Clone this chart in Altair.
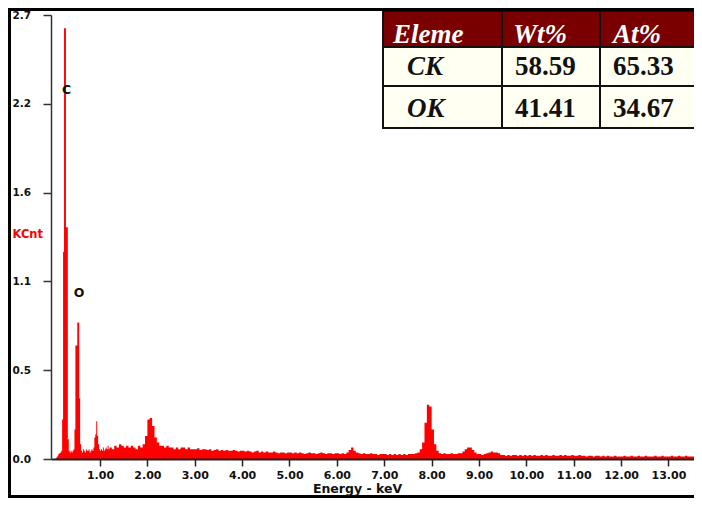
import altair as alt
import pandas as pd

# ---------------- spectrum data (KCnt) ----------------
LOW_START, LOW_STEP = 0.0, 0.02      # keV channels, 0.00 - 1.18
low_counts = [
    0.0, 0.0, 0.0, 0.005, 0.01, 0.02, 0.03, 0.035, 0.04, 0.05,
    0.24, 1.26, 2.62, 2.62, 1.41, 1.41, 0.12, 0.05, 0.04, 0.05,
    0.04, 0.05, 0.06, 0.18, 0.69, 0.69, 0.83, 0.83, 0.37, 0.09,
    0.05, 0.04, 0.06, 0.05, 0.04, 0.06, 0.05, 0.05, 0.06, 0.04,
    0.05, 0.06, 0.05, 0.07, 0.13, 0.15, 0.23, 0.14, 0.09, 0.06,
    0.05, 0.06, 0.05, 0.07, 0.05, 0.06, 0.07, 0.06, 0.08, 0.06,
]
HIGH_START, HIGH_STEP = 1.20, 0.05   # keV channels, 1.20 - 13.50
high_counts = [
    0.07, 0.06, 0.08, 0.07, 0.09, 0.08, 0.07, 0.08, 0.07, 0.08, 0.07, 0.06, 0.08, 0.07, 0.09, 0.14,
    0.24, 0.25, 0.20, 0.13, 0.10, 0.08, 0.08, 0.07, 0.08, 0.07, 0.07, 0.06, 0.07, 0.06, 0.07, 0.07, 0.06, 0.07, 0.06, 0.06,
    0.06, 0.065, 0.055, 0.06, 0.06, 0.055, 0.06, 0.05, 0.055, 0.06, 0.05, 0.055, 0.05, 0.055, 0.05, 0.05, 0.055, 0.05, 0.045, 0.05,
    0.05, 0.045, 0.05, 0.045, 0.04, 0.045, 0.05, 0.04, 0.045, 0.04, 0.045, 0.04, 0.04, 0.045, 0.04, 0.035, 0.04, 0.04, 0.035, 0.04,
    0.04, 0.035, 0.04, 0.035, 0.04, 0.035, 0.03, 0.035, 0.04, 0.035, 0.035, 0.03, 0.035, 0.04, 0.035, 0.03, 0.035, 0.035, 0.03, 0.035,
    0.035, 0.03, 0.035, 0.03, 0.04, 0.055, 0.07, 0.05, 0.04, 0.035, 0.03, 0.035, 0.03, 0.03, 0.035, 0.03, 0.03, 0.025, 0.03, 0.03,
    0.03, 0.025, 0.03, 0.025, 0.03, 0.025, 0.03, 0.025, 0.03, 0.025, 0.03, 0.03, 0.03, 0.035, 0.04, 0.06, 0.10, 0.22, 0.33, 0.32,
    0.18, 0.09, 0.05, 0.035, 0.03, 0.035, 0.03, 0.03, 0.035, 0.03, 0.03, 0.035, 0.035, 0.045, 0.06, 0.07, 0.07, 0.055, 0.04, 0.03,
    0.03, 0.025, 0.03, 0.035, 0.04, 0.045, 0.04, 0.04, 0.035, 0.025, 0.025, 0.02, 0.025, 0.02, 0.025, 0.025, 0.02, 0.025, 0.02, 0.025,
    0.02, 0.025, 0.02, 0.025, 0.02, 0.02, 0.025, 0.02, 0.025, 0.02, 0.02, 0.025, 0.02, 0.02, 0.025, 0.02, 0.025, 0.02, 0.02, 0.025,
    0.02, 0.02, 0.025, 0.02, 0.02, 0.015, 0.02, 0.02, 0.015, 0.02, 0.02, 0.015, 0.02, 0.015, 0.02, 0.015, 0.015, 0.02, 0.015, 0.015,
    0.015, 0.02, 0.015, 0.015, 0.02, 0.015, 0.015, 0.02, 0.015, 0.015, 0.02, 0.015, 0.015, 0.015, 0.02, 0.015, 0.015, 0.02, 0.015, 0.015,
    0.015, 0.02, 0.015, 0.015, 0.02, 0.015, 0.015, 0.02, 0.015, 0.015, 0.015,
]

# peak labels
elements = ["C", "O"]
label_energy = [0.296, 0.555]
label_kcnt = [2.245, 1.01]

# axis ticks
x_ticks = [1, 2, 3, 4, 5, 6, 7, 8, 9, 10, 11, 12, 13]
y_ticks = [0.0, 0.54, 1.08, 1.62, 2.16, 2.7]

# quantification table
table_header = ["Eleme", "Wt%", "At%"]
table_elements = ["CK", "OK"]
table_wt = ["58.59", "41.41"]
table_at = ["65.33", "34.67"]

# ---------------- layout ----------------
X_MIN, X_MAX = -0.035, 13.54
Y_MAX = 2.7
W, H = 643, 444
col_edges = [332, 451, 549, 660]
row_edges = [-4, 32, 71, 113]
header_x = [342, 462, 562]
body_x = [356, 464, 562]
row_base = [28, 60, 102]
HEADER_FILL = "#7a0000"
BODY_FILL = "#fffff2"
RED = "#ff0000"
AXIS_FONT = "DejaVu Sans"
TABLE_FONT = "Liberation Serif"

# ---------------- build tables ----------------
energies, counts = [], []
for i, c in enumerate(low_counts):
    energies.append(round(LOW_START + i * LOW_STEP, 4)); counts.append(c)
for i, c in enumerate(high_counts):
    energies.append(round(HIGH_START + i * HIGH_STEP, 4)); counts.append(c)
energies.append(round(HIGH_START + len(high_counts) * HIGH_STEP, 4)); counts.append(high_counts[-1])
spec = pd.DataFrame({"energy": energies, "kcnt": counts})

xscale = alt.Scale(domain=[X_MIN, X_MAX], nice=False, zero=False)
yscale = alt.Scale(domain=[0, Y_MAX], nice=False, zero=True)

area = alt.Chart(spec).mark_area(interpolate="step-after", color=RED, clip=True).encode(
    x=alt.X("energy:Q", scale=xscale, axis=alt.Axis(
        values=x_ticks, format=".2f", title="Energy - keV", grid=False,
        labelFont=AXIS_FONT, labelFontSize=11, labelFontWeight="bold", labelColor="#111",
        labelPadding=3, tickSize=7, tickWidth=1.5, tickColor="#222",
        domainColor="#222", domainWidth=2, labelFlush=False,
        titleFont=AXIS_FONT, titleFontSize=12.5, titleFontWeight="bold", titleColor="#111",
        titleX=306, titleY=29, titleAlign="center", titleBaseline="middle", zindex=1)),
    y=alt.Y("kcnt:Q", scale=yscale, axis=alt.Axis(
        values=y_ticks, format=".1f", title="KCnt", grid=False,
        labelFont=AXIS_FONT, labelFontSize=10.5, labelFontWeight="bold", labelColor="#111",
        labelAlign="left", labelPadding=31, labelBaseline="middle",
        tickSize=8, tickWidth=1.5, tickColor="#333", domainColor="#333", domainWidth=1.5,
        titleAngle=0, titleX=-39, titleY=219, titleAlign="left", titleBaseline="middle",
        titleColor=RED, titleFont=AXIS_FONT, titleFontSize=11.5, titleFontWeight="bold", zindex=1)),
)

labels = alt.Chart(pd.DataFrame({"el": elements, "e": label_energy, "k": label_kcnt})).mark_text(
    font=AXIS_FONT, fontSize=12.5, fontWeight="bold", color="#111", baseline="middle", align="center"
).encode(
    x=alt.X("e:Q", scale=xscale, axis=None),
    y=alt.Y("k:Q", scale=yscale, axis=None),
    text="el:N",
)

# table cells
cells = []
for r in range(3):
    for c in range(3):
        cells.append({"x0": col_edges[c], "x1": col_edges[c + 1],
                      "y0": row_edges[r], "y1": row_edges[r + 1],
                      "fill": HEADER_FILL if r == 0 else BODY_FILL})
cells = pd.DataFrame(cells)
rects = alt.Chart(cells).mark_rect(stroke="#111", strokeWidth=2).encode(
    x=alt.X("x0:Q", scale=None, axis=None), x2="x1:Q",
    y=alt.Y("y0:Q", scale=None, axis=None), y2="y1:Q",
    fill=alt.Fill("fill:N", scale=None),
)

italic_rows, plain_rows = [], []
for c, t in enumerate(table_header):
    italic_rows.append({"x": header_x[c], "y": row_base[0], "t": t, "col": "white"})
for r in range(2):
    italic_rows.append({"x": body_x[0], "y": row_base[r + 1], "t": table_elements[r], "col": "#111"})
    plain_rows.append({"x": body_x[1], "y": row_base[r + 1], "t": table_wt[r], "col": "#111"})
    plain_rows.append({"x": body_x[2], "y": row_base[r + 1], "t": table_at[r], "col": "#111"})

def text_layer(rows, style):
    return alt.Chart(pd.DataFrame(rows)).mark_text(
        font=TABLE_FONT, fontSize=27, fontWeight="bold", fontStyle=style,
        align="left", baseline="alphabetic").encode(
        x=alt.X("x:Q", scale=None, axis=None),
        y=alt.Y("y:Q", scale=None, axis=None),
        text="t:N",
        color=alt.Color("col:N", scale=None),
    )

frame = alt.Chart(pd.DataFrame({"k": [0]})).mark_rect(
    fillOpacity=0, stroke="#000", strokeWidth=3).encode(
    x=alt.value(-41.5), x2=alt.value(720), y=alt.value(-5.5), y2=alt.value(481.5))

chart = alt.layer(
    area, labels, rects, text_layer(italic_rows, "italic"), text_layer(plain_rows, "normal"), frame
).resolve_scale(x="independent", y="independent").properties(
    width=W, height=H,
    autosize=alt.AutoSizeParams(type="none"),
    padding={"left": 43, "top": 7, "right": 0, "bottom": 39},
    background="white",
).configure_view(stroke=None)

chart.save("out.html", embed_options={"renderer": "svg", "actions": False})
